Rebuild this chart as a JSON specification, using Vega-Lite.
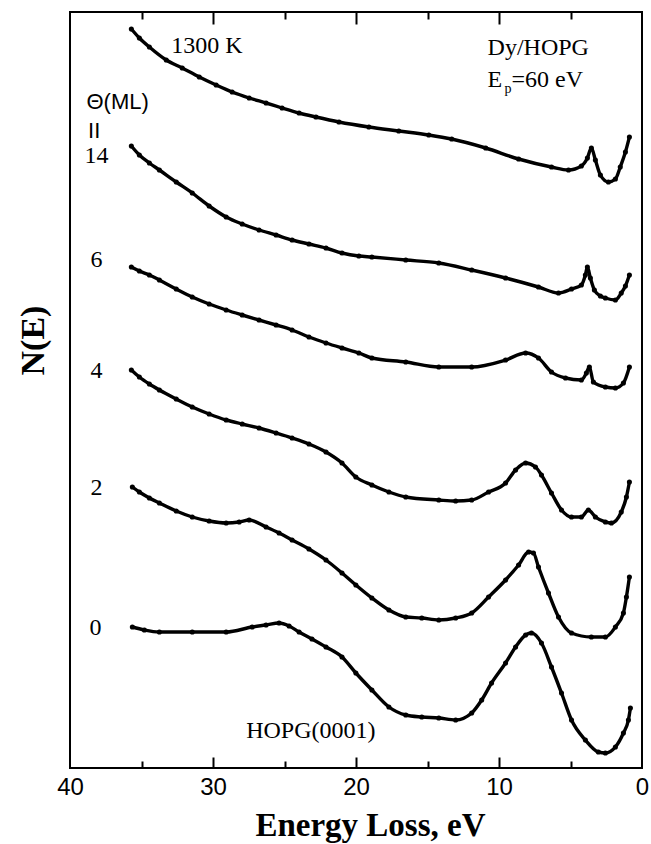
{
  "$schema": "https://vega.github.io/schema/vega-lite/v6.json",
  "width": 572,
  "height": 756,
  "autosize": {"type": "none"},
  "padding": {"left": 70, "top": 12, "right": 9, "bottom": 76},
  "background": "white",
  "config": {
    "view": {"stroke": "black", "strokeWidth": 2},
    "axis": {"grid": false}
  },
  "datasets": {
    "curves": [
      {"s":"1300K","E":35.71,"N":739},{"s":"1300K","E":35.15,"N":730},{"s":"1300K","E":34.45,"N":721},{"s":"1300K","E":33.27,"N":708},{"s":"1300K","E":32.15,"N":700},{"s":"1300K","E":30.96,"N":691},{"s":"1300K","E":29.78,"N":683},{"s":"1300K","E":28.66,"N":676},{"s":"1300K","E":27.47,"N":670},{"s":"1300K","E":26.29,"N":665},{"s":"1300K","E":25.17,"N":660},{"s":"1300K","E":23.98,"N":655},{"s":"1300K","E":22.80,"N":651},{"s":"1300K","E":21.19,"N":646},{"s":"1300K","E":19.10,"N":641},{"s":"1300K","E":17.01,"N":637},{"s":"1300K","E":14.91,"N":633},{"s":"1300K","E":13.31,"N":629},{"s":"1300K","E":10.93,"N":620},{"s":"1300K","E":8.63,"N":609},{"s":"1300K","E":6.33,"N":601},{"s":"1300K","E":5.14,"N":598},{"s":"1300K","E":4.24,"N":602},{"s":"1300K","E":3.82,"N":610},{"s":"1300K","E":3.54,"N":620},{"s":"1300K","E":3.26,"N":608},{"s":"1300K","E":2.91,"N":593},{"s":"1300K","E":2.35,"N":586},{"s":"1300K","E":1.86,"N":589},{"s":"1300K","E":1.52,"N":601},{"s":"1300K","E":1.16,"N":616},{"s":"1300K","E":0.88,"N":631},
      {"s":"14","E":35.71,"N":622},{"s":"14","E":35.15,"N":613},{"s":"14","E":34.45,"N":605},{"s":"14","E":33.75,"N":598},{"s":"14","E":32.57,"N":586},{"s":"14","E":31.45,"N":575},{"s":"14","E":30.27,"N":562},{"s":"14","E":29.08,"N":551},{"s":"14","E":27.96,"N":544},{"s":"14","E":26.78,"N":538},{"s":"14","E":25.59,"N":533},{"s":"14","E":24.47,"N":528},{"s":"14","E":23.29,"N":524},{"s":"14","E":22.10,"N":520},{"s":"14","E":20.98,"N":515},{"s":"14","E":19.80,"N":512},{"s":"14","E":18.89,"N":511},{"s":"14","E":16.52,"N":508},{"s":"14","E":14.21,"N":505},{"s":"14","E":11.91,"N":498},{"s":"14","E":9.54,"N":490},{"s":"14","E":7.24,"N":481},{"s":"14","E":5.84,"N":475},{"s":"14","E":4.93,"N":479},{"s":"14","E":4.24,"N":483},{"s":"14","E":3.96,"N":493},{"s":"14","E":3.82,"N":501},{"s":"14","E":3.61,"N":490},{"s":"14","E":3.33,"N":478},{"s":"14","E":2.91,"N":472},{"s":"14","E":2.56,"N":470},{"s":"14","E":1.86,"N":468},{"s":"14","E":1.45,"N":475},{"s":"14","E":1.16,"N":482},{"s":"14","E":0.88,"N":493},
      {"s":"6","E":35.71,"N":501},{"s":"6","E":35.15,"N":497},{"s":"6","E":34.45,"N":493},{"s":"6","E":33.75,"N":488},{"s":"6","E":32.57,"N":479},{"s":"6","E":31.45,"N":471},{"s":"6","E":30.27,"N":464},{"s":"6","E":29.08,"N":458},{"s":"6","E":27.96,"N":453},{"s":"6","E":26.78,"N":448},{"s":"6","E":25.59,"N":443},{"s":"6","E":24.47,"N":438},{"s":"6","E":23.29,"N":431},{"s":"6","E":22.10,"N":425},{"s":"6","E":20.98,"N":420},{"s":"6","E":19.80,"N":415},{"s":"6","E":18.89,"N":410},{"s":"6","E":16.52,"N":406},{"s":"6","E":14.21,"N":401},{"s":"6","E":11.91,"N":401},{"s":"6","E":9.54,"N":408},{"s":"6","E":8.14,"N":415},{"s":"6","E":7.24,"N":410},{"s":"6","E":6.33,"N":396},{"s":"6","E":5.35,"N":390},{"s":"6","E":4.24,"N":388},{"s":"6","E":3.89,"N":395},{"s":"6","E":3.68,"N":401},{"s":"6","E":3.40,"N":386},{"s":"6","E":2.56,"N":381},{"s":"6","E":1.86,"N":380},{"s":"6","E":1.30,"N":385},{"s":"6","E":0.88,"N":401},
      {"s":"4","E":35.71,"N":398},{"s":"4","E":35.15,"N":391},{"s":"4","E":34.45,"N":384},{"s":"4","E":33.75,"N":378},{"s":"4","E":32.57,"N":369},{"s":"4","E":31.45,"N":361},{"s":"4","E":30.27,"N":354},{"s":"4","E":29.08,"N":348},{"s":"4","E":27.96,"N":344},{"s":"4","E":26.78,"N":340},{"s":"4","E":25.59,"N":335},{"s":"4","E":24.47,"N":330},{"s":"4","E":23.29,"N":324},{"s":"4","E":22.10,"N":316},{"s":"4","E":20.98,"N":305},{"s":"4","E":20.01,"N":291},{"s":"4","E":18.89,"N":283},{"s":"4","E":17.70,"N":276},{"s":"4","E":16.52,"N":271},{"s":"4","E":14.21,"N":268},{"s":"4","E":13.03,"N":267},{"s":"4","E":11.91,"N":268},{"s":"4","E":10.73,"N":276},{"s":"4","E":9.54,"N":285},{"s":"4","E":8.84,"N":298},{"s":"4","E":8.14,"N":305},{"s":"4","E":7.45,"N":301},{"s":"4","E":7.03,"N":293},{"s":"4","E":6.33,"N":275},{"s":"4","E":5.63,"N":258},{"s":"4","E":4.93,"N":251},{"s":"4","E":4.24,"N":251},{"s":"4","E":3.75,"N":258},{"s":"4","E":3.26,"N":251},{"s":"4","E":2.56,"N":246},{"s":"4","E":2.14,"N":245},{"s":"4","E":1.45,"N":256},{"s":"4","E":1.09,"N":271},{"s":"4","E":0.88,"N":286},
      {"s":"2","E":35.64,"N":281},{"s":"2","E":35.15,"N":276},{"s":"2","E":34.45,"N":270},{"s":"2","E":33.75,"N":265},{"s":"2","E":32.57,"N":257},{"s":"2","E":31.45,"N":251},{"s":"2","E":30.27,"N":247},{"s":"2","E":29.08,"N":245},{"s":"2","E":28.17,"N":246},{"s":"2","E":27.47,"N":248},{"s":"2","E":26.29,"N":241},{"s":"2","E":25.38,"N":235},{"s":"2","E":24.47,"N":228},{"s":"2","E":23.29,"N":219},{"s":"2","E":22.10,"N":208},{"s":"2","E":20.98,"N":195},{"s":"2","E":20.01,"N":183},{"s":"2","E":18.89,"N":170},{"s":"2","E":17.70,"N":158},{"s":"2","E":16.52,"N":151},{"s":"2","E":15.40,"N":150},{"s":"2","E":14.21,"N":148},{"s":"2","E":13.03,"N":150},{"s":"2","E":11.91,"N":155},{"s":"2","E":10.73,"N":171},{"s":"2","E":9.54,"N":188},{"s":"2","E":8.63,"N":203},{"s":"2","E":7.93,"N":216},{"s":"2","E":7.59,"N":215},{"s":"2","E":7.24,"N":201},{"s":"2","E":6.54,"N":175},{"s":"2","E":5.84,"N":151},{"s":"2","E":4.93,"N":135},{"s":"2","E":3.54,"N":131},{"s":"2","E":2.56,"N":131},{"s":"2","E":1.86,"N":141},{"s":"2","E":1.30,"N":155},{"s":"2","E":1.09,"N":171},{"s":"2","E":0.88,"N":191},
      {"s":"0","E":35.64,"N":141},{"s":"0","E":34.80,"N":138},{"s":"0","E":33.75,"N":136},{"s":"0","E":31.45,"N":136},{"s":"0","E":29.08,"N":136},{"s":"0","E":27.26,"N":141},{"s":"0","E":26.29,"N":143},{"s":"0","E":25.38,"N":145},{"s":"0","E":24.68,"N":142},{"s":"0","E":23.98,"N":136},{"s":"0","E":23.08,"N":129},{"s":"0","E":22.10,"N":121},{"s":"0","E":20.98,"N":111},{"s":"0","E":20.01,"N":95},{"s":"0","E":18.89,"N":78},{"s":"0","E":17.70,"N":61},{"s":"0","E":16.52,"N":53},{"s":"0","E":15.40,"N":51},{"s":"0","E":14.21,"N":50},{"s":"0","E":13.03,"N":48},{"s":"0","E":11.91,"N":55},{"s":"0","E":11.21,"N":68},{"s":"0","E":10.52,"N":85},{"s":"0","E":9.54,"N":105},{"s":"0","E":8.84,"N":121},{"s":"0","E":8.14,"N":133},{"s":"0","E":7.73,"N":135},{"s":"0","E":7.03,"N":125},{"s":"0","E":6.33,"N":101},{"s":"0","E":5.63,"N":75},{"s":"0","E":4.93,"N":48},{"s":"0","E":3.96,"N":28},{"s":"0","E":3.05,"N":16},{"s":"0","E":2.56,"N":15},{"s":"0","E":1.86,"N":21},{"s":"0","E":1.30,"N":35},{"s":"0","E":0.95,"N":48},{"s":"0","E":0.81,"N":60}
    ],
    "serif": [
      {"t":"1300 K","E":32.92,"N":715},
      {"t":"Dy/HOPG","E":10.80,"N":713},
      {"t":"E","E":10.80,"N":681},
      {"t":"=60 eV","E":9.12,"N":681},
      {"t":"HOPG(0001)","E":27.68,"N":30},
      {"t":"14","E":38.99,"N":605},
      {"t":"6","E":38.57,"N":501},
      {"t":"4","E":38.57,"N":390},
      {"t":"2","E":38.57,"N":273},
      {"t":"0","E":38.64,"N":133}
    ],
    "sans": [
      {"t":"Θ(ML)","E":38.85,"N":659},
      {"t":"II","E":38.74,"N":630}
    ],
    "sub": [
      {"t":"p","E":9.61,"N":675}
    ]
  },
  "layer": [
    {
      "data": {"name": "curves"},
      "mark": {"type": "line", "color": "black", "strokeWidth": 3.4, "interpolate": "monotone"},
      "encoding": {
        "x": {"field": "E", "type": "quantitative", "scale": {"domain": [0, 40], "reverse": true, "nice": false, "zero": false},
          "axis": {"orient": "bottom", "values": [40, 30, 20, 10, 0], "ticks": false, "domain": false, "grid": false,
            "labelFont": "Liberation Sans", "labelFontSize": 24, "labelColor": "black", "labelPadding": 7, "labelFlush": false, "labelOverlap": false,
            "title": "Energy Loss, eV", "titleFont": "Liberation Serif", "titleFontWeight": "bold", "titleFontSize": 33, "titleColor": "black",
            "titleX": 300, "titleY": 67, "titleBaseline": "alphabetic", "titleAlign": "center", "titleAnchor": null}},
        "y": {"field": "N", "type": "quantitative", "scale": {"domain": [0, 756], "nice": false, "zero": false},
          "axis": {"labels": false, "ticks": false, "domain": false, "grid": false, "title": "N(E)", "titleFont": "Liberation Serif", "titleFontWeight": "bold", "titleFontSize": 34, "titleColor": "black", "titleX": -27, "titleY": 328, "titleAlign": "center", "titleBaseline": "alphabetic", "titleAngle": 270}},
        "detail": {"field": "s"}
      }
    },
    {
      "data": {"name": "curves"},
      "mark": {"type": "point", "filled": true, "color": "black", "size": 26, "opacity": 1},
      "encoding": {
        "x": {"field": "E", "type": "quantitative", "scale": {"domain": [0, 40], "reverse": true, "nice": false, "zero": false},
          "axis": {"orient": "bottom", "values": [30, 20, 10], "labels": false, "domain": false, "grid": false, "ticks": true, "tickSize": -11, "tickWidth": 2, "tickColor": "black", "title": null}},
        "y": {"field": "N", "type": "quantitative", "scale": {"domain": [0, 756], "nice": false, "zero": false},
          "axis": {"labels": false, "ticks": false, "domain": false, "grid": false, "title": "N(E)", "titleFont": "Liberation Serif", "titleFontWeight": "bold", "titleFontSize": 34, "titleColor": "black", "titleX": -27, "titleY": 328, "titleAlign": "center", "titleBaseline": "alphabetic", "titleAngle": 270}}
      }
    },
    {
      "data": {"name": "serif"},
      "mark": {"type": "text", "font": "Liberation Serif", "fontSize": 24, "align": "left", "baseline": "alphabetic", "color": "black"},
      "encoding": {
        "x": {"field": "E", "type": "quantitative", "scale": {"domain": [0, 40], "reverse": true, "nice": false, "zero": false},
          "axis": {"orient": "bottom", "values": [35, 25, 15, 5], "labels": false, "domain": false, "grid": false, "ticks": true, "tickSize": -7, "tickWidth": 2, "tickColor": "black", "title": null}},
        "y": {"field": "N", "type": "quantitative", "scale": {"domain": [0, 756], "nice": false, "zero": false},
          "axis": {"labels": false, "ticks": false, "domain": false, "grid": false, "title": "N(E)", "titleFont": "Liberation Serif", "titleFontWeight": "bold", "titleFontSize": 34, "titleColor": "black", "titleX": -27, "titleY": 328, "titleAlign": "center", "titleBaseline": "alphabetic", "titleAngle": 270}},
        "text": {"field": "t"}
      }
    },
    {
      "data": {"name": "sans"},
      "mark": {"type": "text", "font": "Liberation Sans", "fontSize": 22, "align": "left", "baseline": "alphabetic", "color": "black"},
      "encoding": {
        "x": {"field": "E", "type": "quantitative", "scale": {"domain": [0, 40], "reverse": true, "nice": false, "zero": false},
          "axis": {"orient": "top", "values": [30, 20, 10], "labels": false, "domain": false, "grid": false, "ticks": true, "tickSize": -12, "tickWidth": 2, "tickColor": "black", "title": null}},
        "y": {"field": "N", "type": "quantitative", "scale": {"domain": [0, 756], "nice": false, "zero": false},
          "axis": {"labels": false, "ticks": false, "domain": false, "grid": false, "title": "N(E)", "titleFont": "Liberation Serif", "titleFontWeight": "bold", "titleFontSize": 34, "titleColor": "black", "titleX": -27, "titleY": 328, "titleAlign": "center", "titleBaseline": "alphabetic", "titleAngle": 270}},
        "text": {"field": "t"}
      }
    },
    {
      "data": {"name": "sub"},
      "mark": {"type": "text", "font": "Liberation Serif", "fontSize": 14, "align": "left", "baseline": "alphabetic", "color": "black"},
      "encoding": {
        "x": {"field": "E", "type": "quantitative", "scale": {"domain": [0, 40], "reverse": true, "nice": false, "zero": false},
          "axis": {"orient": "top", "values": [35, 25, 15, 5], "labels": false, "domain": false, "grid": false, "ticks": true, "tickSize": -7, "tickWidth": 2, "tickColor": "black", "title": null}},
        "y": {"field": "N", "type": "quantitative", "scale": {"domain": [0, 756], "nice": false, "zero": false},
          "axis": {"labels": false, "ticks": false, "domain": false, "grid": false, "title": "N(E)", "titleFont": "Liberation Serif", "titleFontWeight": "bold", "titleFontSize": 34, "titleColor": "black", "titleX": -27, "titleY": 328, "titleAlign": "center", "titleBaseline": "alphabetic", "titleAngle": 270}},
        "text": {"field": "t"}
      }
    }
  ],
  "resolve": {"axis": {"x": "independent"}}
}
